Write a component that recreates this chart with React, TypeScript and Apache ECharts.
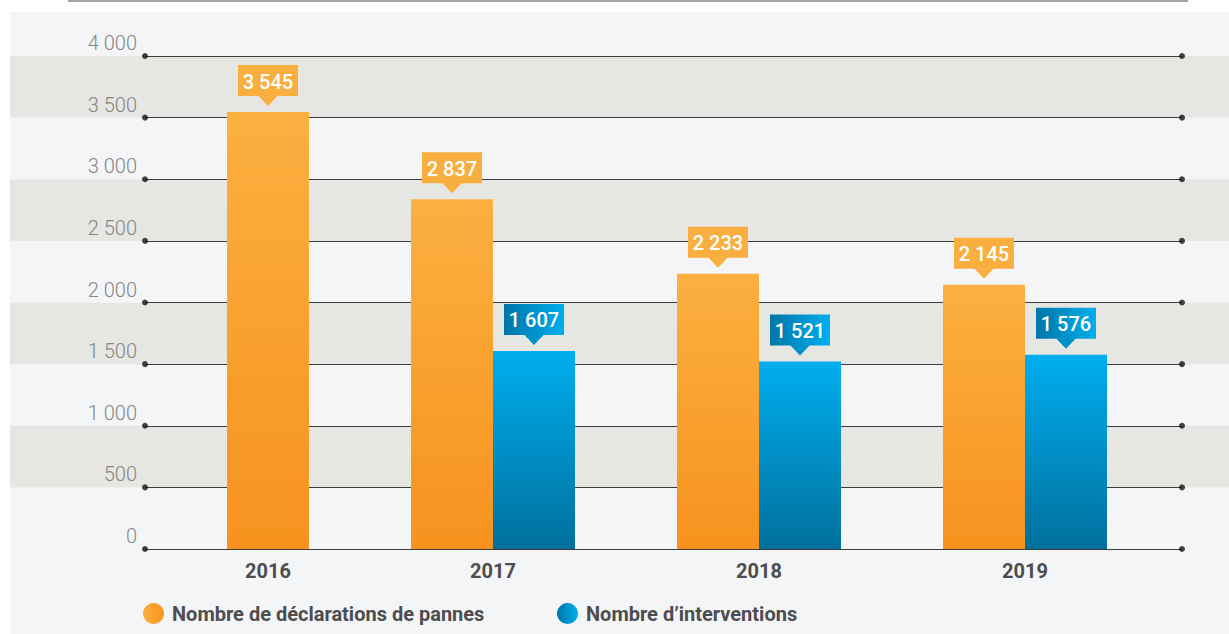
import React, { useEffect, useRef } from "react";
import * as echarts from "echarts";

const years = ["2016", "2017", "2018", "2019"];
const declarations: (number | null)[] = [3545, 2837, 2233, 2145];
const interventions: (number | null)[] = [null, 1607, 1521, 1576];
const yTicks = [0, 500, 1000, 1500, 2000, 2500, 3000, 3500, 4000];

const DECL = "Nombre de déclarations de pannes";
const INTERV = "Nombre d’interventions";

const FONT = "Roboto";
const BAR_W = 82;

const fmt = (v: number) => String(v).replace(/\B(?=(\d{3})+(?!\d))/g, " ");

const orangeV = () =>
  new echarts.graphic.LinearGradient(0, 0, 0, 1, [
    { offset: 0, color: "#fbb040" },
    { offset: 1, color: "#f7921e" },
  ]);
const blueV = () =>
  new echarts.graphic.LinearGradient(0, 0, 0, 1, [
    { offset: 0, color: "#00aeef" },
    { offset: 1, color: "#00709c" },
  ]);
const orangeH = () =>
  new echarts.graphic.LinearGradient(0, 0, 1, 0, [
    { offset: 0, color: "#fbb040" },
    { offset: 1, color: "#f7941d" },
  ]);
const blueH = () =>
  new echarts.graphic.LinearGradient(0, 0, 1, 0, [
    { offset: 0, color: "#0076a8" },
    { offset: 1, color: "#00aeef" },
  ]);

function makeLabelRenderer(boxFill: () => any, triFill: string) {
  return (params: any, api: any) => {
    const i = api.value(0);
    const v = api.value(1);
    const slot = api.value(2);
    const p = api.coord([i, v]);
    const cx = p[0] + (slot * BAR_W) / 2;
    const tipY = p[1] - 6;
    const boxH = 31;
    const boxW = 60;
    const triH = 10;
    const triW = 20;
    const boxBottom = tipY - triH;
    return {
      type: "group",
      children: [
        {
          type: "rect",
          shape: { x: cx - boxW / 2, y: boxBottom - boxH, width: boxW, height: boxH },
          style: { fill: boxFill() },
        },
        {
          type: "polygon",
          shape: {
            points: [
              [cx - triW / 2, boxBottom - 0.5],
              [cx + triW / 2, boxBottom - 0.5],
              [cx, tipY],
            ],
          },
          style: { fill: triFill },
        },
        {
          type: "text",
          style: {
            text: fmt(v),
            x: cx,
            y: boxBottom - boxH / 2 + 1,
            align: "center",
            verticalAlign: "middle",
            fill: "#ffffff",
            fontSize: 20,
            fontWeight: 500,
            fontFamily: FONT,
          },
        },
      ],
    };
  };
}

export default function App() {
  const ref = useRef<HTMLDivElement>(null);

  useEffect(() => {
    if (!ref.current) return;
    const chart = echarts.init(ref.current, undefined, { renderer: "svg" });

    const declLabels = declarations.map((v, i) => [i, v, interventions[i] == null ? 1 : -1]);
    const intervLabels = interventions
      .map((v, i) => (v == null ? null : [i, v, 1]))
      .filter((d) => d != null);

    const yLabelStyle = {
      fontSize: 20,
      fontWeight: 300,
      color: "#858585",
      fontFamily: FONT,
    };
    const yearStyle = {
      fontSize: 20,
      fontWeight: "bold",
      color: "#4d4d4f",
      fontFamily: FONT,
    };
    const legendText = {
      fontSize: 20,
      fontWeight: "bold",
      color: "#4d4d4f",
      fontFamily: FONT,
      padding: [0, 0, 0, 3],
    };

    const option: any = {
      animation: false,
      backgroundColor: "#ffffff",
      graphic: [
        {
          type: "rect",
          z: -100,
          shape: { x: 10, y: 12, width: 1219, height: 622 },
          style: { fill: "#f4f5f7" },
        },
        {
          type: "line",
          z: -100,
          shape: { x1: 68, y1: 1, x2: 1188, y2: 1 },
          style: { stroke: "#a3a5a8", lineWidth: 2 },
        },
      ],
      grid: [
        { left: 145, right: 47, top: 56, bottom: 85 },
        { left: 94, right: 71, top: 56, bottom: 85 },
        { left: 10, right: 0, top: 56, bottom: 85 },
      ],
      xAxis: [
        { type: "value", gridIndex: 0, min: 0, max: 1, show: false },
        {
          type: "category",
          gridIndex: 1,
          data: years,
          axisLine: { show: false },
          axisTick: { show: false },
          axisLabel: {
            margin: 12,
            formatter: (val: string, idx: number) =>
              interventions[idx] == null ? `{solo|${val}}` : `{n|${val}}`,
            rich: {
              solo: { ...yearStyle, padding: [0, 0, 0, BAR_W] },
              n: { ...yearStyle },
            },
          },
        },
        { type: "value", gridIndex: 2, min: 0, max: 1, show: false },
      ],
      yAxis: [
        {
          type: "value",
          gridIndex: 0,
          min: 0,
          max: 4000,
          interval: 500,
          axisLine: { show: false },
          axisTick: { show: false },
          splitLine: { show: true, lineStyle: { color: "#3c3c3c", width: 1.2 } },
          axisLabel: {
            ...yLabelStyle,
            margin: 8,
            verticalAlign: "bottom",
            padding: [0, 0, 3, 0],
            formatter: (v: number) => fmt(v),
          },
        },
        {
          type: "value",
          gridIndex: 1,
          min: 0,
          max: 4000,
          interval: 500,
          show: false,
        },
        {
          type: "value",
          gridIndex: 2,
          min: 0,
          max: 4000,
          interval: 500,
          z: -50,
          axisLine: { show: false },
          axisTick: { show: false },
          axisLabel: { show: false },
          splitLine: { show: false },
          splitArea: {
            show: true,
            areaStyle: { color: ["#f4f5f7", "#e6e7e3"] },
          },
        },
      ],
      legend: [
        {
          left: 143,
          top: 603,
          padding: 0,
          icon: "circle",
          itemWidth: 21,
          itemHeight: 21,
          selectedMode: false,
          data: [{ name: DECL, itemStyle: { color: orangeH() } }],
          textStyle: legendText,
        },
        {
          left: 557,
          top: 603,
          padding: 0,
          icon: "circle",
          itemWidth: 21,
          itemHeight: 21,
          selectedMode: false,
          data: [{ name: INTERV, itemStyle: { color: blueH() } }],
          textStyle: legendText,
        },
      ],
      series: [
        {
          type: "scatter",
          xAxisIndex: 0,
          yAxisIndex: 0,
          symbol: "circle",
          symbolSize: 6,
          itemStyle: { color: "#141414" },
          z: 6,
          silent: true,
          data: yTicks.flatMap((t) => [
            [0, t],
            [1, t],
          ]),
        },
        {
          type: "bar",
          name: DECL,
          xAxisIndex: 1,
          yAxisIndex: 1,
          stack: "a",
          barWidth: BAR_W,
          barGap: "0%",
          itemStyle: { color: orangeV() },
          data: declarations.map((v, i) => (interventions[i] == null ? "-" : v)),
        },
        {
          type: "bar",
          name: INTERV,
          xAxisIndex: 1,
          yAxisIndex: 1,
          stack: "b",
          barWidth: BAR_W,
          barGap: "0%",
          itemStyle: { color: blueV() },
          data: interventions.map((v) => (v == null ? "-" : v)),
        },
        {
          type: "bar",
          name: DECL,
          xAxisIndex: 1,
          yAxisIndex: 1,
          stack: "b",
          barWidth: BAR_W,
          barGap: "0%",
          itemStyle: { color: orangeV() },
          data: declarations.map((v, i) => (interventions[i] == null ? v : "-")),
        },
        {
          type: "custom",
          xAxisIndex: 1,
          yAxisIndex: 1,
          z: 8,
          clip: false,
          silent: true,
          encode: { x: 0, y: 1 },
          renderItem: makeLabelRenderer(() => "#f9ae40", "#f9ae40"),
          data: declLabels,
        },
        {
          type: "custom",
          xAxisIndex: 1,
          yAxisIndex: 1,
          z: 8,
          clip: false,
          silent: true,
          encode: { x: 0, y: 1 },
          renderItem: makeLabelRenderer(blueH, "#0091c9"),
          data: intervLabels,
        },
      ],
    };

    chart.setOption(option);
    return () => chart.dispose();
  }, []);

  return (
    <div
      ref={ref}
      style={{ position: "fixed", left: 0, top: 0, width: 1229, height: 634 }}
    />
  );
}
